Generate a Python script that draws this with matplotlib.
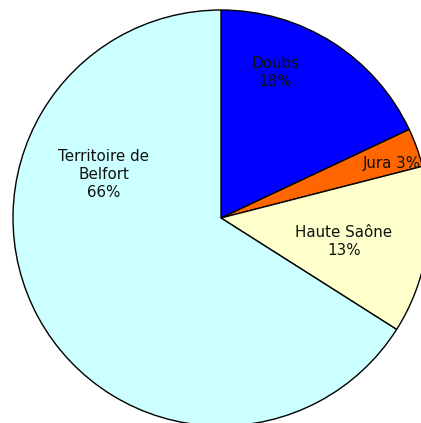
import matplotlib
matplotlib.use("Agg")
import matplotlib.pyplot as plt

categories = ["Doubs", "Jura", "Haute Saône", "Territoire de\nBelfort"]
values = [18, 3, 13, 66]
colors = ["#0000FF", "#FF6600", "#FFFFCC", "#CCFFFF"]
label_xy = [(0.26, 0.70), (0.82, 0.264), (0.59, -0.115), (-0.5625, 0.207)]
label_sep = ["\n", " ", "\n", "\n"]

W, H = 421, 423
fig = plt.figure(figsize=(W / 100, H / 100), dpi=100)
ax = fig.add_axes([0, 0, 1, 1])
cx, cy, r = 221, 218, 208
ax.pie(values, colors=colors, startangle=90, counterclock=False,
       wedgeprops=dict(edgecolor="black", linewidth=1.0))
ax.set_xlim(-cx / r, (W - cx) / r)
ax.set_ylim(-(H - cy) / r, cy / r)
ax.set_aspect("auto")
ax.axis("off")

total = sum(values)
for cat, v, (x, y), sep in zip(categories, values, label_xy, label_sep):
    ax.text(x, y, f"{cat}{sep}{round(100 * v / total)}%", ha="center", va="center",
            fontsize=10.9, color="#111111", linespacing=1.25, family="DejaVu Sans")

fig.savefig("out.png", dpi=100)
